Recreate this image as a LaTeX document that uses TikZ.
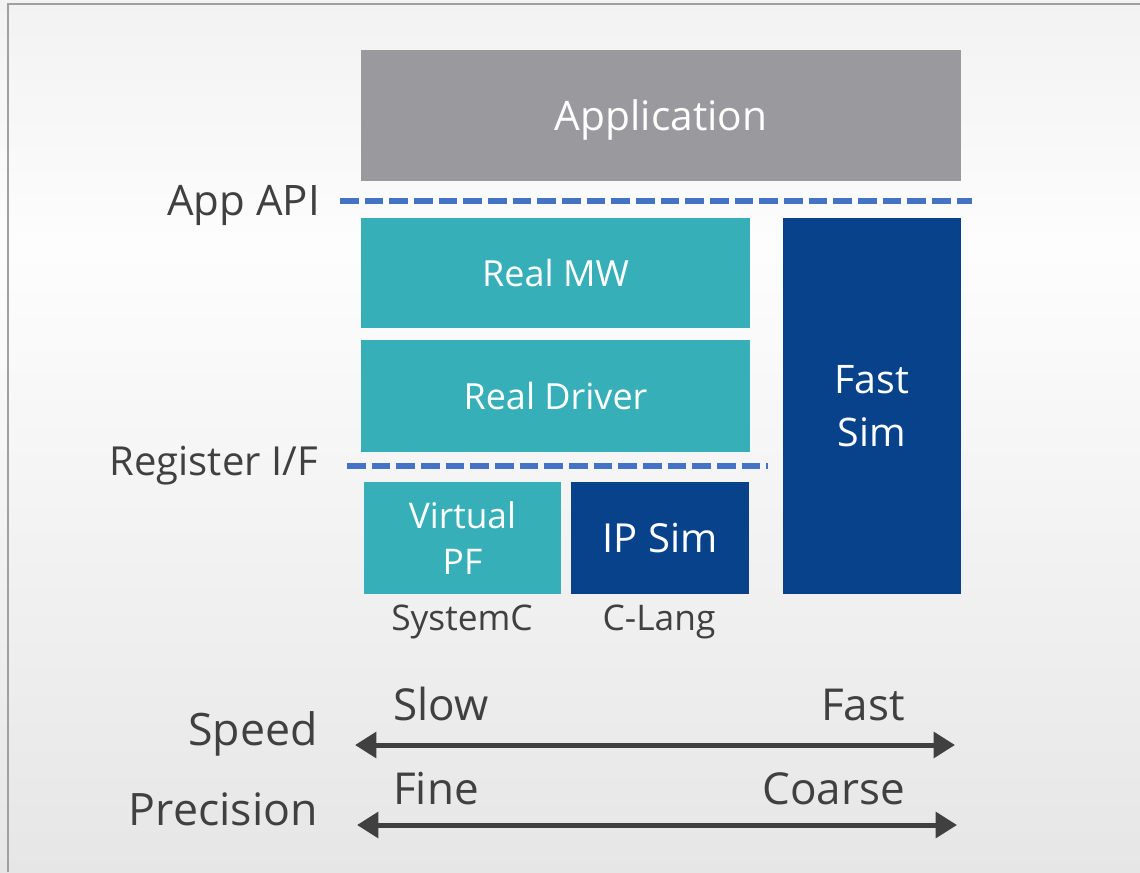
\documentclass[tikz,border=0pt]{standalone}
\usepackage{fontspec}
\setmainfont{Open Sans}
\usetikzlibrary{arrows.meta}
\definecolor{appgray}{HTML}{9A999E}
\definecolor{swteal}{HTML}{37AFB8}
\definecolor{simblue}{HTML}{07428A}
\definecolor{apiblue}{HTML}{4472C4}
\definecolor{txtgray}{HTML}{404040}
\definecolor{framegray}{HTML}{A0A0A0}
\definecolor{bgtop}{HTML}{F2F2F2}
\definecolor{bgmid}{HTML}{FDFDFD}
\definecolor{bgbot}{HTML}{E6E6E6}

\begin{document}
\begin{tikzpicture}[x=0.75pt, y=-0.75pt, >={Triangle[length=16pt,width=19pt]},
  blk/.style={inner sep=0pt, text=white, align=center},
  lbl/.style={inner sep=0pt, text=txtgray},
  iface/.style={apiblue, line width=4pt, dash pattern=on 14pt off 4.5pt},
  scale axis/.style={<->, txtgray, line width=3.75pt}]
\useasboundingbox (0,0) rectangle (1140,872);
\shade[top color=bgtop, bottom color=bgmid] (0,0) rectangle (1140,250);
\shade[top color=bgmid, bottom color=bgbot] (0,250) rectangle (1140,872);
\draw[framegray, line width=1.5pt] (8,872) -- (8,4) -- (1140,4);

\node[blk, fill=appgray, minimum width=450pt, minimum height=98.25pt, text depth=0pt,
  font=\fontsize{30.5pt}{36pt}\selectfont] (app) at (661,115.5) {Application};
\node[blk, fill=swteal, minimum width=291.75pt, minimum height=82.5pt,
  font=\fontsize{27pt}{32pt}\selectfont] (mw) at (555.5,273) {Real MW};
\node[blk, fill=swteal, minimum width=291.75pt, minimum height=84pt,
  font=\fontsize{27pt}{32pt}\selectfont] (drv) at (555.5,396) {Real Driver};
\node[blk, fill=swteal, minimum width=147.75pt, minimum height=84pt,
  font=\fontsize{26.5pt}{34pt}\selectfont] (vpf) at (462.5,538) {Virtual\\PF};
\node[blk, fill=simblue, minimum width=133.5pt, minimum height=84pt,
  font=\fontsize{30pt}{36pt}\selectfont] (ipsim) at (660,538) {IP Sim};
\node[blk, fill=simblue, minimum width=133.5pt, minimum height=282pt,
  font=\fontsize{29.5pt}{40pt}\selectfont] (fastsim) at (872,406) {Fast\\Sim};

\node[lbl, anchor=base, font=\fontsize{26.5pt}{30pt}\selectfont] (sysc) at (462,630) {SystemC};
\node[lbl, anchor=base, font=\fontsize{26.5pt}{30pt}\selectfont] (clang) at (659,630) {C-Lang};

\coordinate (api-w) at (340,201);
\coordinate (api-e) at (972,201);
\coordinate (reg-w) at (347,466);
\coordinate (reg-e) at (768,466);
\draw[iface] (api-w) -- (api-e);
\draw[iface] (reg-w) -- (reg-e);
\node[lbl, anchor=base east, font=\fontsize{31.5pt}{38pt}\selectfont] (apilbl) at (320,215) {App API};
\node[lbl, anchor=base east, font=\fontsize{30pt}{36pt}\selectfont] (reglbl) at (318,475) {Register I/F};

\coordinate (spd-w) at (355,745);
\coordinate (spd-e) at (955,745);
\coordinate (prc-w) at (357,825);
\coordinate (prc-e) at (957,825);
\draw[scale axis] (spd-w) -- (spd-e);
\draw[scale axis] (prc-w) -- (prc-e);
\node[lbl, anchor=base east, font=\fontsize{33.5pt}{40pt}\selectfont] (speed) at (318,745) {Speed};
\node[lbl, anchor=base east, font=\fontsize{33.5pt}{40pt}\selectfont] (prec) at (318,825) {Precision};
\node[lbl, anchor=base west, font=\fontsize{33pt}{38pt}\selectfont] (slow) at (393,720) {Slow};
\node[lbl, anchor=base east, font=\fontsize{33pt}{38pt}\selectfont] (fast) at (905,720) {Fast};
\node[lbl, anchor=base west, font=\fontsize{33pt}{38pt}\selectfont] (fine) at (393,804) {Fine};
\node[lbl, anchor=base east, font=\fontsize{33pt}{38pt}\selectfont] (coarse) at (905,804) {Coarse};
\end{tikzpicture}
\end{document}
